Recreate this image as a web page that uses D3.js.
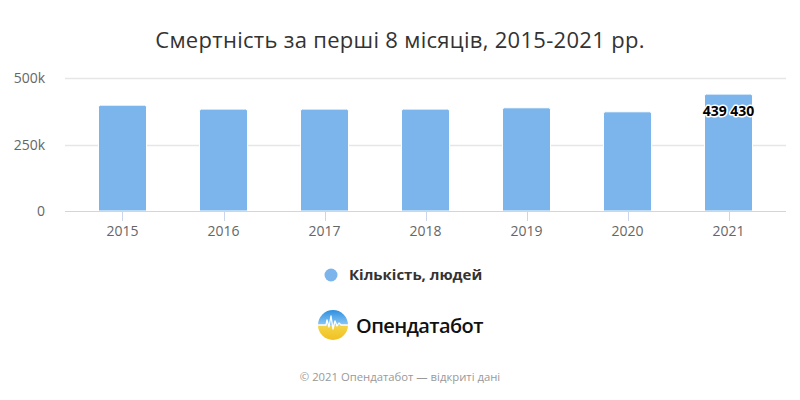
<!DOCTYPE html>
<html><head><meta charset="utf-8">
<script src="https://cdn.jsdelivr.net/npm/d3@7"></script>
<style>body{margin:0;background:#fff}svg{display:block}</style>
</head><body>
<svg id="c" width="800" height="400"></svg>
<script>
const categories = ["2015","2016","2017","2018","2019","2020","2021"];
const values = [398000, 383000, 383000, 383000, 388000, 373000, 439430];
const yTicks = [0, 250000, 500000];
const yTickLabels = ["0", "250k", "500k"];
const title = "Смертність за перші 8 місяців, 2015-2021 рр.";
const seriesName = "Кількість, людей";
const labelIndex = 6;
const footer = "© 2021 Опендатабот — відкриті дані";

(function () {
const font = "'Open Sans','Noto Sans',sans-serif";
const svg = d3.select("#c");
const pLeft = 65, pRight = 786, pTop = 78, pBottom = 211;
const x = d3.scaleBand().domain(categories).range([72, 779]).paddingInner(0.52).paddingOuter(0.26);
const y = d3.scaleLinear().domain([0, 500000]).range([pBottom, pTop]);

svg.append("text").attr("x", 400).attr("y", 48).attr("text-anchor", "middle")
  .attr("font-family", font).attr("font-size", 22).attr("letter-spacing", 0.3).attr("fill", "#333").text(title);

// grid
svg.append("g").selectAll("line").data(yTicks.filter(d => d > 0)).join("line")
  .attr("x1", pLeft).attr("x2", pRight).attr("y1", d => Math.round(y(d)) + 0.5).attr("y2", d => Math.round(y(d)) + 0.5)
  .attr("stroke", "#e6e6e6").attr("stroke-width", 1.5);

// y labels
svg.append("g").selectAll("text").data(yTicks).join("text")
  .attr("x", 45).attr("y", d => y(d) + 5).attr("text-anchor", "end")
  .attr("font-family", font).attr("font-size", 14).attr("fill", "#666")
  .text((d, i) => yTickLabels[i]);

// bars
const barW = 48;
svg.append("g").selectAll("path").data(values).join("path")
  .attr("d", (d, i) => {
    const cx = x(categories[i]) + x.bandwidth() / 2;
    const x0 = cx - barW / 2, y0 = y(d), r = 2;
    return `M${x0},${pBottom}V${y0 + r}Q${x0},${y0} ${x0 + r},${y0}H${x0 + barW - r}Q${x0 + barW},${y0} ${x0 + barW},${y0 + r}V${pBottom}Z`;
  })
  .attr("fill", "#7cb5ec").attr("stroke", "#fff").attr("stroke-width", 1);

// x axis
svg.append("line").attr("x1", pLeft).attr("x2", pRight).attr("y1", pBottom + 0.5).attr("y2", pBottom + 0.5)
  .attr("stroke", "#ccd6eb").attr("stroke-width", 1);
const xa = svg.append("g");
xa.selectAll("line").data(categories).join("line")
  .attr("x1", d => Math.round(x(d) + x.bandwidth() / 2) + 0.5).attr("x2", d => Math.round(x(d) + x.bandwidth() / 2) + 0.5)
  .attr("y1", pBottom).attr("y2", pBottom + 10).attr("stroke", "#ccd6eb");
xa.selectAll("text").data(categories).join("text")
  .attr("x", d => x(d) + x.bandwidth() / 2).attr("y", 236).attr("text-anchor", "middle")
  .attr("font-family", font).attr("font-size", 14).attr("fill", "#666").text(d => d);

// data label
const lx = x(categories[labelIndex]) + x.bandwidth() / 2;
svg.append("text").attr("x", lx).attr("y", 116).attr("text-anchor", "middle")
  .attr("font-family", font).attr("font-size", 14).attr("font-weight", "bold")
  .attr("fill", "#000").attr("stroke", "#fff").attr("stroke-width", 3).attr("paint-order", "stroke")
  .attr("stroke-linejoin", "round").text(d3.format(",")(values[labelIndex]).replace(/,/g, " "));

// legend
svg.append("circle").attr("cx", 331).attr("cy", 275).attr("r", 6.5).attr("fill", "#7cb5ec");
svg.append("text").attr("x", 349).attr("y", 280).attr("font-family", font).attr("font-size", 15)
  .attr("font-weight", "bold").attr("fill", "#333").text(seriesName);

// logo
const defs = svg.append("defs");
const g1 = defs.append("linearGradient").attr("id", "lb").attr("x1", 0).attr("y1", 0).attr("x2", 0).attr("y2", 1);
g1.append("stop").attr("offset", "0").attr("stop-color", "#2f8fe0");
g1.append("stop").attr("offset", "0.5").attr("stop-color", "#8cc8f5");
g1.append("stop").attr("offset", "0.5").attr("stop-color", "#f4d64a");
g1.append("stop").attr("offset", "1").attr("stop-color", "#f0c020");
defs.append("clipPath").attr("id", "lc").append("circle").attr("cx", 333).attr("cy", 325).attr("r", 15);
const lg = svg.append("g");
lg.append("circle").attr("cx", 333).attr("cy", 325).attr("r", 15).attr("fill", "url(#lb)");
lg.append("path").attr("clip-path", "url(#lc)")
  .attr("d", "M316,325 L326,325 L327,320 L329,327 L331,316 L333,329 L335,321 L337,326 L339,323 L341,325 L350,325")
  .attr("fill", "none").attr("stroke", "#fff").attr("stroke-width", 1.3).attr("stroke-linejoin", "round");
svg.append("text").attr("x", 356).attr("y", 333).attr("font-family", font).attr("font-size", 20)
  .attr("font-weight", 600).attr("fill", "#111").attr("letter-spacing", -0.6).text("Опендатабот");

svg.append("text").attr("x", 400).attr("y", 381).attr("text-anchor", "middle")
  .attr("font-family", font).attr("font-size", 11.3).attr("fill", "#999").text(footer);
})();
</script>
</body></html>
